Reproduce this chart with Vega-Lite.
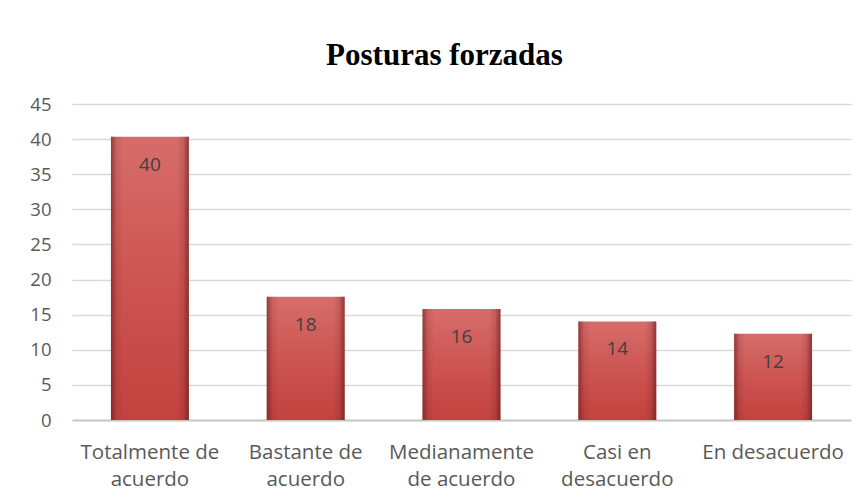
{
  "$schema": "https://vega.github.io/schema/vega-lite/v6.json",
  "autosize": {"type": "none"},
  "padding": {"left": 72, "top": 104, "right": 14, "bottom": 82},
  "width": 779,
  "height": 316,
  "background": "white",
  "title": {
    "text": "Posturas forzadas",
    "font": "Liberation Serif",
    "fontSize": 31,
    "fontWeight": "bold",
    "color": "#000000",
    "anchor": "middle",
    "dx": -17,
    "baseline": "alphabetic",
    "offset": -1
  },
  "data": {
    "values": [
      {"categoria": "Totalmente de acuerdo", "valor": 40.35},
      {"categoria": "Bastante de acuerdo", "valor": 17.54},
      {"categoria": "Medianamente de acuerdo", "valor": 15.79},
      {"categoria": "Casi en desacuerdo", "valor": 14.04},
      {"categoria": "En desacuerdo", "valor": 12.28}
    ]
  },
  "encoding": {
    "x": {
      "field": "categoria",
      "type": "nominal",
      "sort": null,
      "scale": {"paddingInner": 0.5, "paddingOuter": 0.25},
      "axis": {
        "title": null,
        "labelAngle": 0,
        "labelExpr": "datum.label == 'Totalmente de acuerdo' ? ['Totalmente de', 'acuerdo'] : datum.label == 'Bastante de acuerdo' ? ['Bastante de', 'acuerdo'] : datum.label == 'Medianamente de acuerdo' ? ['Medianamente', 'de acuerdo'] : datum.label == 'Casi en desacuerdo' ? ['Casi en', 'desacuerdo'] : datum.label",
        "labelFont": "Open Sans",
        "labelFontSize": 20.5,
        "labelColor": "#595959",
        "labelLineHeight": 27,
        "labelPadding": 22,
        "labelBaseline": "top",
        "labelLimit": 200,
        "ticks": false,
        "domain": true,
        "domainColor": "#c8c8c8",
        "domainWidth": 2
      }
    },
    "y": {
      "field": "valor",
      "type": "quantitative",
      "scale": {"domain": [0, 45], "nice": false},
      "axis": {
        "title": null,
        "values": [0, 5, 10, 15, 20, 25, 30, 35, 40, 45],
        "labelFont": "Open Sans",
        "labelFontSize": 18.5,
        "labelColor": "#595959",
        "labelPadding": 21,
        "ticks": false,
        "domain": false,
        "grid": true,
        "gridColor": "#d9d9d9",
        "gridWidth": 1.5
      }
    }
  },
  "layer": [
    {
      "mark": {
        "type": "bar",
        "color": {
          "gradient": "linear",
          "x1": 0, "y1": 0, "x2": 0, "y2": 1,
          "stops": [
            {"offset": 0, "color": "#d66d6a"},
            {"offset": 0.5, "color": "#cd5552"},
            {"offset": 1, "color": "#c2423f"}
          ]
        }
      }
    },
    {
      "mark": {
        "type": "bar",
        "color": {
          "gradient": "linear",
          "x1": 0, "y1": 0, "x2": 1, "y2": 0,
          "stops": [
            {"offset": 0, "color": "rgba(90,20,20,0.55)"},
            {"offset": 0.07, "color": "rgba(90,20,20,0.12)"},
            {"offset": 0.15, "color": "rgba(90,20,20,0)"},
            {"offset": 0.85, "color": "rgba(90,20,20,0)"},
            {"offset": 0.93, "color": "rgba(90,20,20,0.15)"},
            {"offset": 1, "color": "rgba(90,20,20,0.6)"}
          ]
        }
      }
    },
    {
      "mark": {
        "type": "text",
        "baseline": "middle",
        "dy": 28,
        "font": "Open Sans",
        "fontSize": 19,
        "color": "#404040"
      },
      "encoding": {
        "text": {"field": "valor", "type": "quantitative", "format": ".0f"}
      }
    }
  ],
  "config": {
    "view": {"stroke": null}
  }
}
